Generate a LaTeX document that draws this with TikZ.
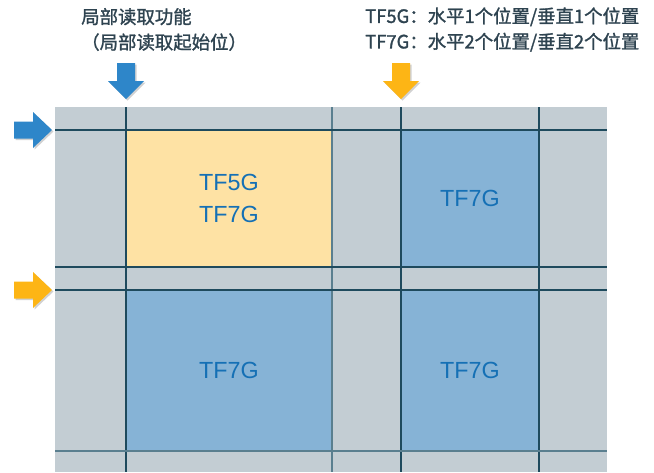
\documentclass[tikz,border=0pt]{standalone}
\usepackage{fontspec}
\setmainfont{Liberation Sans}
\newfontfamily\cjkfont[FakeBold=1.4]{Noto Sans CJK SC}
\usetikzlibrary{positioning}

\definecolor{gridgray}{HTML}{C3CDD3}
\definecolor{cellyellow}{HTML}{FEE2A4}
\definecolor{cellblue}{HTML}{86B3D6}
\definecolor{labelblue}{HTML}{1570B5}
\definecolor{linedark}{HTML}{1E4A5D}
\definecolor{linesoft}{HTML}{5A7F8F}
\definecolor{headtext}{HTML}{2E4350}
\definecolor{arrowblue}{HTML}{2E86C9}
\definecolor{arroworange}{HTML}{FDB515}

\begin{document}
\begin{tikzpicture}[
    x=0.75pt, y=-0.75pt,
    cellbox/.style={inner sep=0pt, text=labelblue, font=\fontsize{17.5}{22}\selectfont, align=center},
    headlabel/.style={anchor=west, inner sep=0pt, text=headtext, align=left, font=\cjkfont\fontsize{13.8}{19.1}\selectfont},
    gridline/.style={linedark, line width=0.9pt},
    softline/.style={linesoft, line width=1.3pt},
    pics/dnarrow/.style={code={
        \fill[black, opacity=0.18] (-7.5,-34.5) -- (10.5,-34.5) -- (10.5,-16.5) -- (19.5,-16.5) -- (1.5,1.5) -- (-16.5,-16.5) -- (-7.5,-16.5) -- cycle;
        \path[pic actions] (-9,-36) -- (9,-36) -- (9,-18) -- (18,-18) -- (0,0) -- (-18,-18) -- (-9,-18) -- cycle;
    }},
    pics/rtarrow/.style={code={
        \fill[black, opacity=0.18] (-36.5,-7) -- (-17.5,-7) -- (-17.5,-16.5) -- (1.5,1.5) -- (-17.5,19.5) -- (-17.5,10) -- (-36.5,10) -- cycle;
        \path[pic actions] (-38,-8.5) -- (-19,-8.5) -- (-19,-18) -- (0,0) -- (-19,18) -- (-19,8.5) -- (-38,8.5) -- cycle;
    }}
]
\useasboundingbox (0,0) rectangle (654,472);

% Background of the sensor area
\fill[gridgray] (55,107) rectangle (607,472);

% Read-out cells
\node[cellbox, fill=cellyellow, minimum width=154.5pt, minimum height=102.75pt] (cellA) at (229,198.5) {TF5G\\[2pt]TF7G};
\node[cellbox, fill=cellblue, minimum width=103.5pt, minimum height=102.75pt] (cellB) at (470,198.5) {TF7G};
\node[cellbox, fill=cellblue, minimum width=154.5pt, minimum height=120.75pt] (cellC) at (229,370.5) {TF7G};
\node[cellbox, fill=cellblue, minimum width=103.5pt, minimum height=120.75pt] (cellD) at (470,370.5) {TF7G};

% Grid lines
\foreach \gx in {126,401,539}
    \draw[gridline] (\gx,107) -- (\gx,472);
\draw[softline] (332,107) -- (332,472);
\foreach \gy in {130,267,290}
    \draw[gridline] (55,\gy) -- (607,\gy);
\draw[softline] (55,451) -- (607,451);

% Start markers
\pic[fill=arrowblue] (startTop) at (126,99) {dnarrow};
\pic[fill=arroworange] (stepTop) at (401,99) {dnarrow};
\pic[fill=arrowblue] (startLeft) at (52,130) {rtarrow};
\pic[fill=arroworange] (stepLeft) at (52,290) {rtarrow};

% Captions
\node[headlabel] (readhead) at (81,29.5) {局部读取功能\\（局部读取起始位）};
\node[headlabel] (stephead) at (365,29.5) {TF5G：水平1个位置/垂直1个位置\\TF7G：水平2个位置/垂直2个位置};

\end{tikzpicture}
\end{document}
